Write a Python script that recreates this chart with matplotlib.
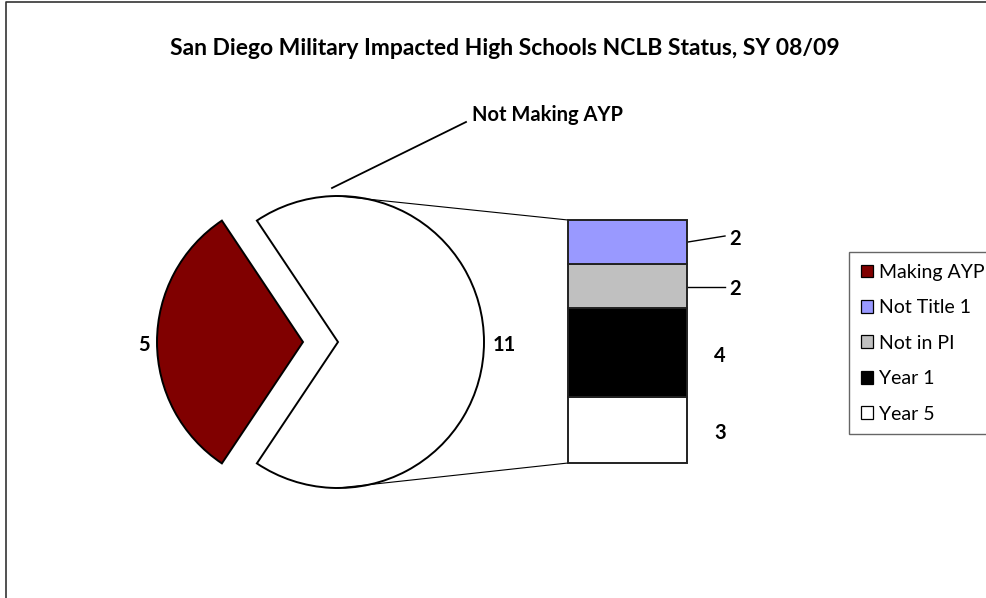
import matplotlib
matplotlib.use("Agg")
import matplotlib.pyplot as plt
from matplotlib.patches import Patch

# ---- data ----
pie_labels = ["Making AYP", "Not Making AYP"]
pie_values = [5, 11]
pie_colors = ["#800000", "#FFFFFF"]

bar_labels = ["Not Title 1", "Not in PI", "Year 1", "Year 5"]   # top -> bottom
bar_values = [2, 2, 4, 3]
bar_colors = ["#9999FF", "#C0C0C0", "#000000", "#FFFFFF"]

title = "San Diego Military Impacted High Schools NCLB Status, SY 08/09"

W, H = 987, 598
FONT = ["Lato", "DejaVu Sans"]

fig = plt.figure(figsize=(W / 100, H / 100), dpi=100)
ax = fig.add_axes([0, 0, 1, 1])

# pie geometry (pixel-like data units, y up)
cx, cy, r = 338, H - 342, 146
explode_px = 35
span0 = 360 * pie_values[0] / sum(pie_values)
wedges, _ = ax.pie(pie_values, colors=pie_colors, center=(cx, cy), radius=r,
                   startangle=180 - span0 / 2, counterclock=True,
                   explode=[explode_px, 0],
                   wedgeprops=dict(edgecolor="black", linewidth=1.4))

# stacked bar
bx0, bx1 = 568, 687
bar_bottom = H - 463
bar_top = H - 220
unit = (bar_top - bar_bottom) / sum(bar_values)
bars = []
bottom = bar_bottom
for lab, v, c in zip(bar_labels[::-1], bar_values[::-1], bar_colors[::-1]):
    b = ax.bar((bx0 + bx1) / 2, v * unit, width=bx1 - bx0, bottom=bottom,
               color=c, edgecolor="#222222", linewidth=1.4, zorder=3)
    bars.append((lab, b[0], bottom, v))
    bottom += v * unit
bars = bars[::-1]

# connector lines
ax.plot([cx, bx0], [cy + r, bar_top], color="black", lw=0.8, zorder=1)
ax.plot([cx, bx0], [cy - r, bar_bottom], color="black", lw=0.8, zorder=1)

# pie value labels
lab_kw = dict(fontsize=14.5, fontweight="bold", family=FONT, va="center")
ax.text(144, H - 345, str(pie_values[0]), ha="center", **lab_kw)
ax.text(504, H - 345, str(pie_values[1]), ha="center", **lab_kw)

# "Not Making AYP" label with leader
ax.plot([332, 466], [H - 188, H - 122], color="black", lw=1.3)
ax.text(548, H - 115, pie_labels[1], ha="center", **lab_kw)

# bar value labels
for i, (lab, b, bot, v) in enumerate(bars):
    mid = bot + v * unit / 2
    if i == 0:
        ax.plot([bx1 + 1, 725], [H - 242, H - 236], color="black", lw=1.0)
        ax.text(735, H - 239, str(v), ha="center", **lab_kw)
    elif i == 1:
        ax.plot([bx1 + 1, 725], [H - 287, H - 287], color="black", lw=1.0)
        ax.text(735, H - 289, str(v), ha="center", **lab_kw)
    else:
        ax.text(720, mid - 3, str(v), ha="center", **lab_kw)

# title
ax.text(505, H - 48, title, ha="center", va="center", fontsize=16.5,
        fontweight="bold", family=FONT)

ax.set_xlim(0, W)
ax.set_ylim(0, H)
ax.set_aspect("equal")
ax.axis("off")

# chart border (extends past right/bottom edge)
ax.plot([5.5, 5.5, W + 5], [-5, H - 2, H - 2], color="#333333", lw=1.2,
        clip_on=False)

# legend
handles = [Patch(facecolor=pie_colors[0], edgecolor="black", lw=0.9)]
handles += [Patch(facecolor=c, edgecolor="black", lw=0.9) for c in bar_colors]
labels = [pie_labels[0]] + bar_labels
leg = fig.legend(handles, labels, loc="upper left",
                 bbox_to_anchor=(849 / W, 1 - 252 / H), borderaxespad=0,
                 fancybox=False, framealpha=1, edgecolor="#666666",
                 handlelength=0.62, handleheight=0.62, handletextpad=0.3,
                 labelspacing=0.95, borderpad=0.6,
                 prop=dict(family=FONT, size=14))
leg.get_frame().set_linewidth(1.0)

fig.savefig("out.png", dpi=100)
